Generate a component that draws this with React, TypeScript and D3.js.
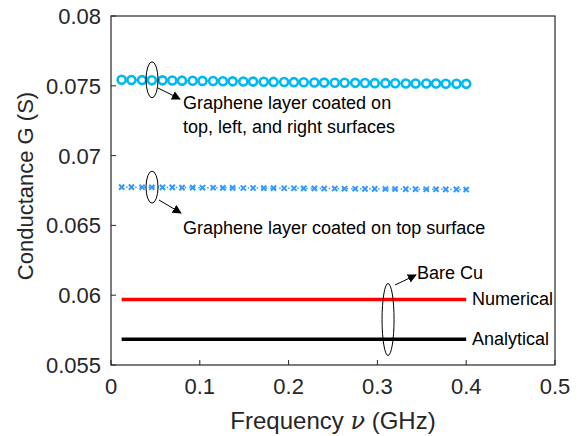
import * as d3 from "d3";
import { useEffect, useRef } from "react";

// frequencies (GHz) of the marker samples
const freqs = [
  0.012, 0.023, 0.035, 0.046, 0.058, 0.069, 0.08, 0.092, 0.103, 0.115, 0.126, 0.137,
  0.149, 0.16, 0.172, 0.183, 0.195, 0.206, 0.217, 0.229, 0.24, 0.252, 0.263, 0.275,
  0.286, 0.297, 0.309, 0.32, 0.332, 0.343, 0.355, 0.366, 0.377, 0.389, 0.4,
];

// graphene on top, left and right surfaces
const gTopSides = [
  0.07543, 0.07542, 0.07541, 0.0754, 0.07539, 0.07538, 0.07537, 0.07536, 0.07535, 0.07534,
  0.07533, 0.07532, 0.07531, 0.0753, 0.07529, 0.07528, 0.07527, 0.07526, 0.07525, 0.07524,
  0.07523, 0.07522, 0.07522, 0.07521, 0.0752, 0.07519, 0.07519, 0.07518, 0.07517, 0.07517,
  0.07516, 0.07516, 0.07515, 0.07515, 0.07514,
];

// graphene on top surface only
const gTop = [
  0.06774, 0.06774, 0.06773, 0.06773, 0.06772, 0.06772, 0.06771, 0.06771, 0.0677, 0.0677,
  0.06769, 0.06769, 0.06768, 0.06768, 0.06767, 0.06767, 0.06766, 0.06766, 0.06765, 0.06765,
  0.06764, 0.06764, 0.06763, 0.06763, 0.06762, 0.06762, 0.06761, 0.06761, 0.0676, 0.0676,
  0.06759, 0.06759, 0.06758, 0.06758, 0.06757,
];

// bare Cu
const lineFreqs = [0.012, 0.4];
const bareNumerical = [0.05969, 0.05969];
const bareAnalytical = [0.05684, 0.05684];

const xTicks = [0, 0.1, 0.2, 0.3, 0.4, 0.5];
const yTicks = [0.055, 0.06, 0.065, 0.07, 0.075, 0.08];

const FONT = "'Liberation Sans', Arial, sans-serif";

export default function App() {
  const svgRef = useRef<SVGSVGElement | null>(null);

  useEffect(() => {
    if (!svgRef.current) return;
    document.body.style.margin = "0";

    const width = 579;
    const height = 436;
    const margin = { top: 16, right: 24, bottom: 71, left: 111 };

    const svg = d3.select(svgRef.current);
    svg.selectAll("*").remove();
    svg.attr("width", width).attr("height", height).style("display", "block").style("font-family", FONT);

    const x = d3.scaleLinear().domain([0, 0.5]).range([margin.left, width - margin.right]);
    const y = d3.scaleLinear().domain([0.055, 0.08]).range([height - margin.bottom, margin.top]);

    const line = d3
      .line<[number, number]>()
      .x((d) => x(d[0]))
      .y((d) => y(d[1]));

    // bare Cu lines
    svg.append("path")
      .attr("d", line(lineFreqs.map((f, i) => [f, bareNumerical[i]]))!)
      .attr("stroke", "#ff0000")
      .attr("stroke-width", 3.5)
      .attr("fill", "none");
    svg.append("path")
      .attr("d", line(lineFreqs.map((f, i) => [f, bareAnalytical[i]]))!)
      .attr("stroke", "#000000")
      .attr("stroke-width", 3.5)
      .attr("fill", "none");

    // top surface: dotted line + x markers
    const crossColor = "#3399ff";
    svg.append("path")
      .attr("d", line(freqs.map((f, i) => [f, gTop[i]]))!)
      .attr("stroke", crossColor)
      .attr("stroke-width", 1.5)
      .attr("stroke-dasharray", "1.5,3")
      .attr("fill", "none");
    const cs = 2.6;
    const crosses = svg.append("g").attr("stroke", crossColor).attr("stroke-width", 2);
    freqs.forEach((f, i) => {
      const cx = x(f);
      const cy = y(gTop[i]);
      crosses.append("path").attr("d", `M${cx - cs},${cy - cs}L${cx + cs},${cy + cs}M${cx - cs},${cy + cs}L${cx + cs},${cy - cs}`);
    });

    // top, left, right surfaces: circles
    const circColor = "#00b8f2";
    svg.append("path")
      .attr("d", line(freqs.map((f, i) => [f, gTopSides[i]]))!)
      .attr("stroke", circColor)
      .attr("stroke-width", 1.5)
      .attr("fill", "none");
    svg.append("g")
      .selectAll("circle")
      .data(freqs)
      .enter()
      .append("circle")
      .attr("cx", (d) => x(d))
      .attr("cy", (d, i) => y(gTopSides[i]))
      .attr("r", 4)
      .attr("fill", "#ffffff")
      .attr("stroke", circColor)
      .attr("stroke-width", 2.6);

    // axes box
    const x0 = x(0), x1 = x(0.5), y0 = y(0.055), y1 = y(0.08);
    svg.append("rect")
      .attr("x", x0).attr("y", y1)
      .attr("width", x1 - x0).attr("height", y0 - y1)
      .attr("fill", "none").attr("stroke", "#262626").attr("stroke-width", 1.2);

    const tickLen = 5;
    xTicks.forEach((t) => {
      svg.append("line")
        .attr("x1", x(t)).attr("x2", x(t))
        .attr("y1", y0).attr("y2", y0 - tickLen)
        .attr("stroke", "#262626").attr("stroke-width", 1);
      svg.append("text")
        .attr("x", x(t)).attr("y", y0 + 29)
        .attr("text-anchor", "middle")
        .attr("font-size", 22).attr("fill", "#262626")
        .text(d3.format("")(t));
    });
    yTicks.forEach((t) => {
      svg.append("line")
        .attr("x1", x0).attr("x2", x0 + tickLen)
        .attr("y1", y(t)).attr("y2", y(t))
        .attr("stroke", "#262626").attr("stroke-width", 1);
      svg.append("text")
        .attr("x", x0 - 10).attr("y", y(t) + 8)
        .attr("text-anchor", "end")
        .attr("font-size", 22).attr("fill", "#262626")
        .text(d3.format("")(t));
    });

    // axis labels
    const xl = svg.append("text")
      .attr("x", (x0 + x1) / 2).attr("y", 429)
      .attr("text-anchor", "middle")
      .attr("font-size", 24).attr("fill", "#262626");
    xl.append("tspan").text("Frequency ");
    xl.append("tspan").attr("font-family", "'DejaVu Serif', serif").attr("font-style", "italic").text("ν");
    xl.append("tspan").text(" (GHz)");

    svg.append("text")
      .attr("transform", `translate(33, 186) rotate(-90)`)
      .attr("text-anchor", "middle")
      .attr("font-size", 22).attr("fill", "#262626")
      .text("Conductance G (S)");

    // annotations
    const ann = svg.append("g");
    const defs = svg.append("defs");
    defs.append("marker")
      .attr("id", "ah")
      .attr("viewBox", "0 0 10 10")
      .attr("refX", 9).attr("refY", 5)
      .attr("markerWidth", 9).attr("markerHeight", 9)
      .attr("markerUnits", "userSpaceOnUse")
      .attr("orient", "auto")
      .append("path").attr("d", "M0,0L10,5L0,10z").attr("fill", "#000");

    const ellipse = (f: number, v: number, rx: number, ry: number) =>
      ann.append("ellipse")
        .attr("cx", x(f)).attr("cy", y(v))
        .attr("rx", rx).attr("ry", ry)
        .attr("fill", "none").attr("stroke", "#000").attr("stroke-width", 1);
    const arrow = (xa: number, ya: number, xb: number, yb: number) =>
      ann.append("line")
        .attr("x1", xa).attr("y1", ya).attr("x2", xb).attr("y2", yb)
        .attr("stroke", "#000").attr("stroke-width", 1)
        .attr("marker-end", "url(#ah)");
    const label = (tx: number, ty: number, s: string) =>
      ann.append("text")
        .attr("x", tx).attr("y", ty)
        .attr("font-size", 18).attr("fill", "#000")
        .text(s);

    ellipse(0.0462, 0.07543, 6, 18);
    arrow(158, 88, 180, 99);
    label(183, 109, "Graphene layer coated on");
    label(183, 133, "top, left, and right surfaces");

    ellipse(0.0462, 0.06774, 6, 16);
    arrow(159, 200, 181, 213);
    label(183, 234, "Graphene layer coated on top surface");

    ellipse(0.312, 0.05826, 6, 36);
    arrow(395, 285, 416, 275);
    label(417, 279, "Bare Cu");
    label(472, 305, "Numerical");
    label(472, 345, "Analytical");
  }, []);

  return <svg ref={svgRef}></svg>;
}
